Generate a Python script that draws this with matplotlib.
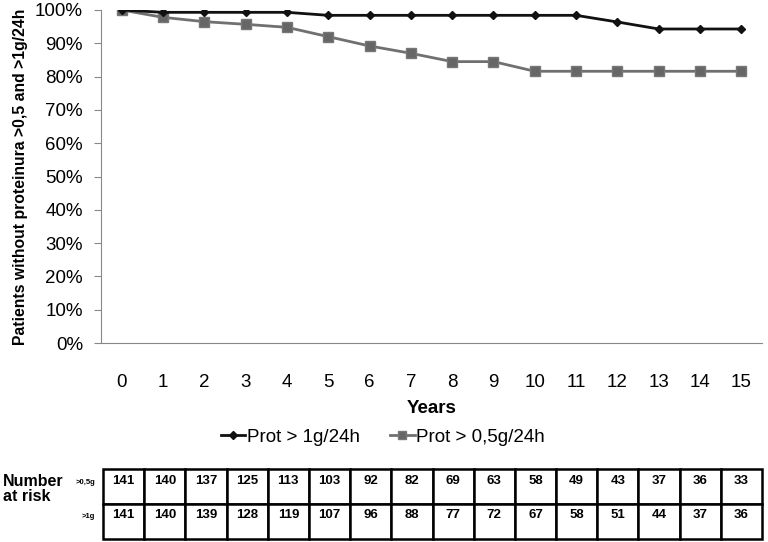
import matplotlib
matplotlib.use("Agg")
import matplotlib.pyplot as plt
import numpy as np

plt.rcParams['font.family'] = ['Liberation Sans', 'DejaVu Sans']

years = list(range(16))
prot_1g = [100, 99.3, 99.3, 99.3, 99.3, 98.4, 98.4, 98.4, 98.4, 98.4, 98.4, 98.4, 96.4, 94.3, 94.3, 94.3]
prot_05g = [100, 97.8, 96.5, 95.7, 94.8, 92.0, 89.2, 87.0, 84.5, 84.5, 81.6, 81.6, 81.6, 81.6, 81.6, 81.6]
risk_05g = [141, 140, 137, 125, 113, 103, 92, 82, 69, 63, 58, 49, 43, 37, 36, 33]
risk_1g = [141, 140, 139, 128, 119, 107, 96, 88, 77, 72, 67, 58, 51, 44, 37, 36]
yticks = np.arange(0, 101, 10)

fig = plt.figure(figsize=(7.68, 5.42), dpi=100)
ax = fig.add_axes([101 / 768, 1 - 343 / 542, 661 / 768, 333 / 542])

ax.plot(years, prot_1g, color='#111111', lw=2, marker='D', ms=4.5,
        label='Prot > 1g/24h', zorder=3)
ax.plot(years, prot_05g, color='#707070', lw=2, marker='s', ms=6.5,
        mfc='#666666', mec='#777777', label='Prot > 0,5g/24h', zorder=2)

ax.set_xlim(-0.5, 15.5)
ax.set_ylim(0, 100)
ax.set_yticks(yticks)
ax.set_yticklabels([f'{v}%' for v in yticks], fontsize=13.5)
ax.set_xticks(years)
ax.set_xticklabels([str(y) for y in years], fontsize=13.5)
ax.tick_params(axis='x', length=0, pad=22)
ax.tick_params(axis='y', length=5, color='#888888', pad=8)
for s in ['top', 'right']:
    ax.spines[s].set_visible(False)
ax.spines['left'].set_color('#888888')
ax.spines['bottom'].set_color('#888888')

ax.set_xlabel('Years', fontsize=13.5, fontweight='bold', labelpad=7)
ax.set_ylabel('Patients without proteinura >0,5 and >1g/24h', fontsize=11.3,
              fontweight='bold', labelpad=5)

h, l = ax.get_legend_handles_labels()
fig.legend(h, l, loc='center', bbox_to_anchor=(383 / 768, 1 - 437 / 542), ncol=2,
           frameon=False, prop={'size': 13.5}, handlelength=1.3,
           handletextpad=0.1, columnspacing=1.6, markerscale=0.8)

# number at risk table
tax = fig.add_axes([103 / 768, 1 - 539 / 542, 659 / 768, 70 / 542])
tax.axis('off')
cells = [[str(v) for v in risk_05g], [str(v) for v in risk_1g]]
tbl = tax.table(cellText=cells, cellLoc='center', bbox=[0, 0, 1, 1])
tbl.auto_set_font_size(False)
for (r, c), cell in tbl.get_celld().items():
    cell.set_linewidth(1.8)
    cell.set_edgecolor('black')
    cell.get_text().set_fontsize(9.5)
    cell.get_text().set_fontweight('bold')
    cell.get_text().set_va('bottom')

fig.text(3 / 768, 1 - 489 / 542, 'Number\nat risk', fontsize=11.5, fontweight='bold',
         va='center', ha='left', linespacing=1.0)
fig.text(95 / 768, 1 - 483 / 542, '>0,5g', fontsize=5.5, fontweight='bold',
         va='center', ha='right')
fig.text(95 / 768, 1 - 517 / 542, '>1g', fontsize=5.5, fontweight='bold',
         va='center', ha='right')

fig.savefig('out.png', dpi=100)
